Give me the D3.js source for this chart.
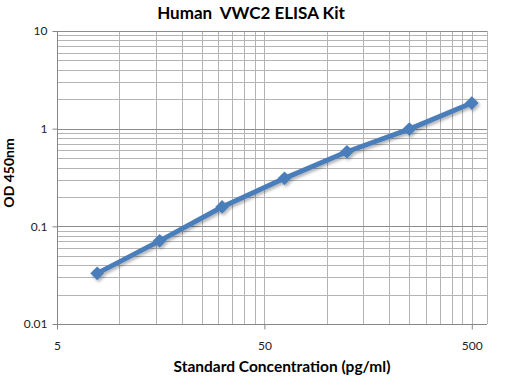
<!DOCTYPE html>
<html><head><meta charset="utf-8">
<script src="https://cdn.jsdelivr.net/npm/d3@7/dist/d3.min.js"></script>
<style>body{margin:0;background:#fff}svg{display:block}</style>
</head><body><svg id="c" width="509" height="379"></svg>
<script>
const concentrations = [7.8125, 15.625, 31.25, 62.5, 125, 250, 500];
const odValues = [0.033, 0.071, 0.158, 0.31, 0.58, 0.99, 1.83];
const xTickLabels = [5, 50, 500];
const yTickLabels = [0.01, 0.1, 1, 10];
const title = "Human  VWC2 ELISA Kit";
const xTitle = "Standard Concentration (pg/ml)";
const yTitle = "OD 450nm";

const svg = d3.select("#c");
const L = 57, R = 487, T = 31, B = 324;
const x = d3.scaleLog().domain([5, 592]).range([L, R]);
const y = d3.scaleLog().domain([0.01, 10]).range([B, T]);
const font = "Lato, 'Open Sans', sans-serif";

// grid
const xGrid = [];
[5, 50].forEach(b => { for (let k = 1; k <= 10; k++) xGrid.push(b * k); });
const xg = xGrid.filter((v, i, a) => a.indexOf(v) === i && v <= 592);
const yGrid = [];
[0.01, 0.1, 1].forEach(b => { for (let k = 1; k <= 10; k++) yGrid.push(+(b * k).toPrecision(3)); });
const yg = yGrid.filter((v, i, a) => a.indexOf(v) === i);

svg.append("g").selectAll("line").data(xg).join("line")
  .attr("x1", d => Math.round(x(d)) + 0.5).attr("x2", d => Math.round(x(d)) + 0.5)
  .attr("y1", T).attr("y2", B)
  .attr("stroke", "#b4b4b4").attr("stroke-width", 1);
svg.append("g").selectAll("line").data(yg).join("line")
  .attr("y1", d => Math.round(y(d)) + 0.5).attr("y2", d => Math.round(y(d)) + 0.5)
  .attr("x1", L).attr("x2", R)
  .attr("stroke", d => yTickLabels.includes(d) ? "#8c8c8c" : "#b4b4b4").attr("stroke-width", 1);
// right border
svg.append("line").attr("x1", R + 0.5).attr("x2", R + 0.5).attr("y1", T).attr("y2", B)
  .attr("stroke", "#b4b4b4");

// axes
const xAxis = d3.axisBottom(x).tickValues(xTickLabels).tickFormat(d3.format("d")).tickSize(5).tickPadding(12);
const gx = svg.append("g").attr("transform", `translate(0,${B + 0.5})`).call(xAxis);
const yAxis = d3.axisLeft(y).tickValues(yTickLabels).tickFormat(d => String(d)).tickSize(5).tickPadding(5);
const gy = svg.append("g").attr("transform", `translate(${L + 0.5},0)`).call(yAxis);
[gx, gy].forEach(g => {
  g.select(".domain").attr("stroke", "#868686");
  g.selectAll(".tick line").attr("stroke", "#868686");
  g.selectAll("text").attr("font-family", font).attr("font-size", 12).attr("fill", "#222");
});
gx.select(".domain").attr("d", `M${L},0H${R}`);
gy.select(".domain").attr("d", `M0,${T}V${B}`);

// line
const pts = concentrations.map((c, i) => [c, odValues[i]]);
const line = d3.line().x(d => x(d[0])).y(d => y(d[1]));
const defs = svg.append("defs");
const f = defs.append("filter").attr("id", "sh").attr("x", "-50%").attr("y", "-50%").attr("width", "200%").attr("height", "200%");
f.append("feDropShadow").attr("dx", 1.5).attr("dy", 2).attr("stdDeviation", 1.5).attr("flood-color", "#000").attr("flood-opacity", 0.3);
const g = svg.append("g").attr("filter", "url(#sh)");
g.append("path").datum(pts).attr("d", line).attr("fill", "none")
  .attr("stroke", "#4a7ebb").attr("stroke-width", 5).attr("stroke-linejoin", "round");
g.selectAll("path.m").data(pts).join("path").attr("class", "m")
  .attr("d", d3.symbol(d3.symbolDiamond2, 120)())
  .attr("transform", d => `translate(${x(d[0])},${y(d[1])})`)
  .attr("fill", "#4a7ebb");

// titles
svg.append("text").attr("x", 251).attr("y", 19).attr("text-anchor", "middle")
  .style("white-space", "pre")
  .attr("font-family", font).attr("font-weight", "bold").attr("font-size", 17).attr("fill", "#000").text(title);
svg.append("text").attr("x", 282).attr("y", 372).attr("text-anchor", "middle")
  .attr("font-family", font).attr("font-weight", "bold").attr("font-size", 15.5).attr("fill", "#000").text(xTitle);
svg.append("text").attr("transform", "translate(14,173) rotate(-90)").attr("text-anchor", "middle")
  .attr("font-family", font).attr("font-weight", "bold").attr("font-size", 14).attr("fill", "#000").text(yTitle);
</script></body></html>
